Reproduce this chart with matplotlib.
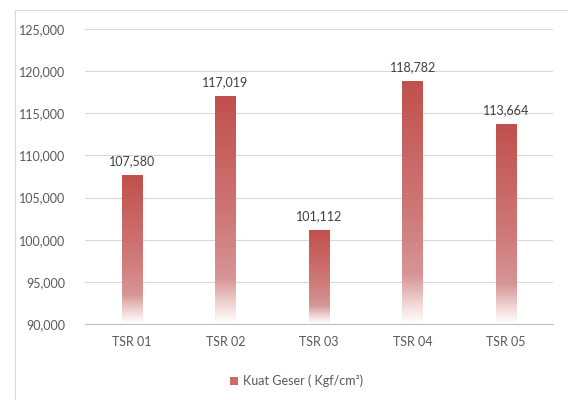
import matplotlib
matplotlib.use('Agg')
import matplotlib.pyplot as plt
import numpy as np
from matplotlib.colors import LinearSegmentedColormap
from matplotlib.patches import Rectangle, Patch

plt.rcParams['font.family'] = ['Lato', 'DejaVu Sans']

categories = ['TSR 01', 'TSR 02', 'TSR 03', 'TSR 04', 'TSR 05']
kuat_geser = [107.580, 117.019, 101.112, 118.782, 113.664]  # thousands, shown as 107,580 etc.
value_labels = ['107,580', '117,019', '101,112', '118,782', '113,664']
y_ticks = [90, 95, 100, 105, 110, 115, 120, 125]
y_tick_labels = ['90,000', '95,000', '100,000', '105,000', '110,000',
                 '115,000', '120,000', '125,000']
series_name = 'Kuat Geser ( Kgf/cm²)'

text_color = '#595959'
grid_color = '#D9D9D9'
red = '#C0504D'

# bottom -> top gradient fill for the columns
grad = LinearSegmentedColormap.from_list('fade', [
    (0.00, '#FFFFFF'),
    (0.06, '#F6E2E2'),
    (0.20, '#D79595'),
    (0.45, '#CF7978'),
    (1.00, red),
])

fig = plt.figure(figsize=(5.68, 4.0), dpi=100)
# chart area border
fig.patches.append(Rectangle((15 / 568, -0.01), 1.0, 1 - 10 / 400 + 0.01,
                             transform=fig.transFigure, fill=False,
                             edgecolor='#D9D9D9', linewidth=0.8))

ax = fig.add_axes([85 / 568, 1 - 324 / 400, (553 - 85) / 568, (324 - 29) / 400])
ymin, ymax = 90, 125
x = np.arange(len(categories))
width = 0.22

g = np.linspace(0, 1, 256).reshape(-1, 1)
for xi, v, lab in zip(x, kuat_geser, value_labels):
    ax.imshow(g, cmap=grad, origin='lower', aspect='auto', interpolation='bilinear',
              extent=(xi - width / 2, xi + width / 2, ymin, v), zorder=2)
    ax.annotate(lab, (xi, v), xytext=(0, 6), textcoords='offset points',
                ha='center', va='bottom', fontsize=9, color='#404040')

ax.set_xlim(-0.5, len(categories) - 0.5)
ax.set_ylim(ymin, ymax)
ax.set_yticks(y_ticks)
ax.set_yticklabels(y_tick_labels)
ax.set_xticks(x)
ax.set_xticklabels(categories)
ax.tick_params(axis='both', length=0, colors=text_color, labelsize=9)
ax.tick_params(axis='y', pad=14)
ax.tick_params(axis='x', pad=9)
ax.grid(axis='y', color=grid_color, linewidth=0.8, zorder=0)
ax.set_axisbelow(True)
for s in ['top', 'right', 'left']:
    ax.spines[s].set_visible(False)
ax.spines['bottom'].set_color('#BFBFBF')
ax.spines['bottom'].set_linewidth(0.8)

handle = Patch(facecolor='#CD6B69', edgecolor='none', label=series_name)
fig.legend(handles=[handle], loc='center', bbox_to_anchor=(0.522, 0.047),
           frameon=False, fontsize=9, labelcolor=text_color,
           handlelength=0.6, handleheight=0.6, handletextpad=0.4)

fig.savefig('out.png', dpi=100)
